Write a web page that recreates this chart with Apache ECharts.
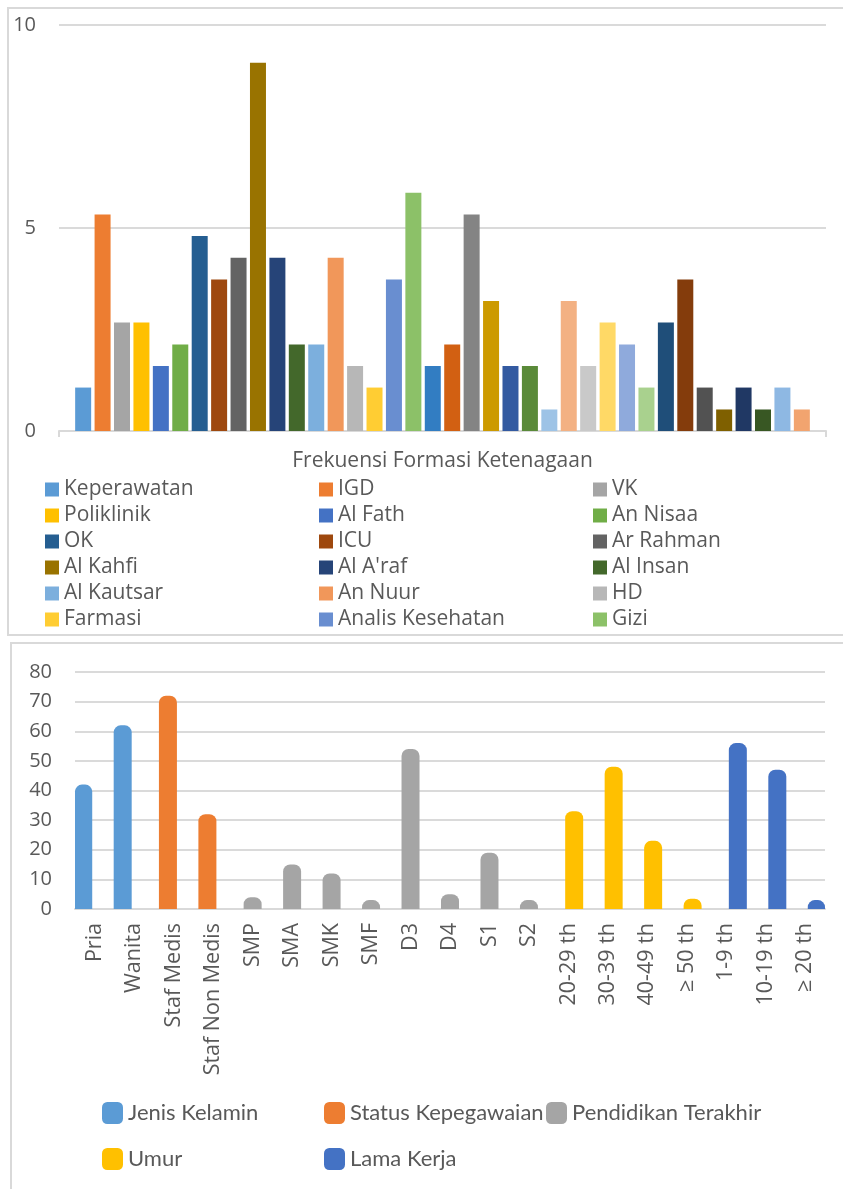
<!DOCTYPE html>
<html>
<head>
	<meta charset="utf-8"/>
	<title>Frekuensi Formasi Ketenagaan</title>
	<script src="https://cdn.jsdelivr.net/npm/echarts@6/dist/echarts.min.js"></script>
	<style>
		body { margin: 0; background: #fff; }
		#main { width: 843px; height: 1189px; }
	</style>
</head>
<body>
<div id="main"></div>
<script>
    // grafik atas: satu kategori, 38 seri (legend hanya memuat 18 nama pertama)
    var unitCategory = ['Frekuensi Formasi Ketenagaan'];
    var unitNames = ['Keperawatan', 'IGD', 'VK', 'Poliklinik', 'Al Fath', 'An Nisaa',
        'OK', 'ICU', 'Ar Rahman', 'Al Kahfi', "Al A'raf", 'Al Insan',
        'Al Kautsar', 'An Nuur', 'HD', 'Farmasi', 'Analis Kesehatan', 'Gizi'];
    var unitValues = [1.07, 5.33, 2.67, 2.67, 1.6, 2.13, 4.8, 3.73, 4.27, 9.07, 4.27, 2.13,
        2.13, 4.27, 1.6, 1.07, 3.73, 5.87, 1.6, 2.13, 5.33, 3.2, 1.6, 1.6,
        0.53, 3.2, 1.6, 2.67, 2.13, 1.07, 2.67, 3.73, 1.07, 0.53, 1.07, 0.53, 1.07, 0.53];
    var unitTicks = [0, 5, 10];

    // grafik bawah: karakteristik responden
    var genderCats = ['Pria', 'Wanita'];
    var genderValues = [42, 62];
    var statusCats = ['Staf Medis', 'Staf Non Medis'];
    var statusValues = [72, 32];
    var eduCats = ['SMP', 'SMA', 'SMK', 'SMF', 'D3', 'D4', 'S1', 'S2'];
    var eduValues = [4, 15, 12, 3, 54, 5, 19, 3];
    var ageCats = ['20-29 th', '30-39 th', '40-49 th', '\u2265 50 th'];
    var ageValues = [33, 48, 23, 3.5];
    var tenureCats = ['1-9 th', '10-19 th', '\u2265 20 th'];
    var tenureValues = [56, 47, 3];
    var groupNames = ['Jenis Kelamin', 'Status Kepegawaian', 'Pendidikan Terakhir', 'Umur', 'Lama Kerja'];

    var unitPalette = ['#5B9BD5', '#ED7D31', '#A5A5A5', '#FFC000', '#4472C4', '#70AD47',
        '#255E91', '#9E480E', '#636363', '#997300', '#264478', '#43682B',
        '#7CAFDD', '#F1975A', '#B7B7B7', '#FFCD33', '#698ED0', '#8CC168',
        '#327DC2', '#D26012', '#848484', '#CC9A00', '#335AA1', '#5A8A39',
        '#9DC3E6', '#F3B183', '#C9C9C9', '#FFD966', '#8FAADC', '#A9D18E',
        '#1F4E79', '#843C0C', '#525252', '#7F6000', '#203864', '#385723',
        '#8EB8E3', '#F2A46F'];
    var groupPalette = ['#5B9BD5', '#ED7D31', '#A5A5A5', '#FFC000', '#4472C4'];

    var txt = '#595959';
    var grid = '#dadada';

    var groupCats = [genderCats, statusCats, eduCats, ageCats, tenureCats];
    var groupVals = [genderValues, statusValues, eduValues, ageValues, tenureValues];
    var allCats = [].concat.apply([], groupCats);

    var series = [];
    for (var i = 0; i < unitValues.length; i++) {
        series.push({
            name: i < unitNames.length ? unitNames[i] : 'Seri ' + (i + 1),
            type: 'bar',
            xAxisIndex: 0,
            yAxisIndex: 0,
            barWidth: 16,
            barGap: '21.4%',
            itemStyle: { color: unitPalette[i] },
            data: [unitValues[i]]
        });
    }
    var pos = 0;
    for (var g = 0; g < groupCats.length; g++) {
        var d = [];
        for (var k = 0; k < allCats.length; k++) {
            var j = k - pos;
            d.push(j >= 0 && j < groupVals[g].length ? groupVals[g][j] : '-');
        }
        pos += groupCats[g].length;
        series.push({
            name: groupNames[g],
            type: 'bar',
            xAxisIndex: 1,
            yAxisIndex: 1,
            barWidth: 18,
            barGap: '-68%',
            itemStyle: { color: groupPalette[g], borderRadius: [7, 7, 0, 0] },
            data: d
        });
    }

    function colLegend(names, left, top, gap, w, h, icon, font, size) {
        return {
            data: names,
            orient: 'vertical',
            left: left,
            top: top,
            padding: 0,
            itemGap: gap,
            itemWidth: w,
            itemHeight: h,
            icon: icon,
            selectedMode: false,
            textStyle: { color: txt, fontFamily: font, fontSize: size }
        };
    }

    var legends = [];
    for (var c = 0; c < 3; c++) {
        var names = [];
        for (var r = 0; r < 6; r++) names.push(unitNames[r * 3 + c]);
        legends.push(colLegend(names, [45, 319, 593][c], 479, 5, 14, 14, 'rect', 'Open Sans', 21));
    }
    legends.push(colLegend([groupNames[0], groupNames[3]], 102, 1102, 24, 21, 22, 'roundRect', 'Lato', 22));
    legends.push(colLegend([groupNames[1], groupNames[4]], 324, 1102, 24, 21, 22, 'roundRect', 'Lato', 22));
    legends.push(colLegend([groupNames[2]], 546, 1102, 24, 21, 22, 'roundRect', 'Lato', 22));

    var option = {
        animation: false,
        backgroundColor: '#fff',
        graphic: [
            { type: 'rect', shape: { x: 8, y: 8, width: 860, height: 627 },
              style: { fill: 'none', stroke: '#d9d9d9', lineWidth: 2 } },
            { type: 'rect', shape: { x: 11, y: 643, width: 860, height: 600 },
              style: { fill: 'none', stroke: '#d9d9d9', lineWidth: 2 } }
        ],
        legend: legends,
        grid: [
            { left: 59, top: 25, width: 767, height: 406 },
            { left: 75, top: 672, width: 750, height: 237 }
        ],
        xAxis: [
            {
                type: 'category',
                gridIndex: 0,
                data: unitCategory,
                axisLine: { lineStyle: { color: '#d9d9d9', width: 2 } },
                axisTick: { show: true, length: 6, lineStyle: { color: '#d9d9d9', width: 2 } },
                axisLabel: { color: txt, fontFamily: 'Open Sans', fontSize: 21, margin: 20 }
            },
            {
                type: 'category',
                gridIndex: 1,
                data: allCats,
                axisLine: { lineStyle: { color: '#d9d9d9', width: 2 } },
                axisTick: { show: false },
                axisLabel: { color: txt, fontFamily: 'Open Sans', fontSize: 21.5, rotate: 90,
                    interval: 0, margin: 14 }
            }
        ],
        yAxis: [
            {
                type: 'value',
                gridIndex: 0,
                min: unitTicks[0],
                max: unitTicks[unitTicks.length - 1],
                interval: unitTicks[1] - unitTicks[0],
                axisLine: { show: false },
                axisTick: { show: false },
                splitLine: { lineStyle: { color: grid, width: 2 } },
                axisLabel: { color: txt, fontFamily: 'Open Sans', fontSize: 20, margin: 23 }
            },
            {
                type: 'value',
                gridIndex: 1,
                min: 0,
                max: 80,
                interval: 10,
                axisLine: { show: false },
                axisTick: { show: false },
                splitLine: { lineStyle: { color: grid, width: 2 } },
                axisLabel: { color: txt, fontFamily: 'Open Sans', fontSize: 20, margin: 23 }
            }
        ],
        series: series
    };

    var myChart = echarts.init(document.getElementById('main'));
    myChart.setOption(option);
</script>
</body>
</html>
